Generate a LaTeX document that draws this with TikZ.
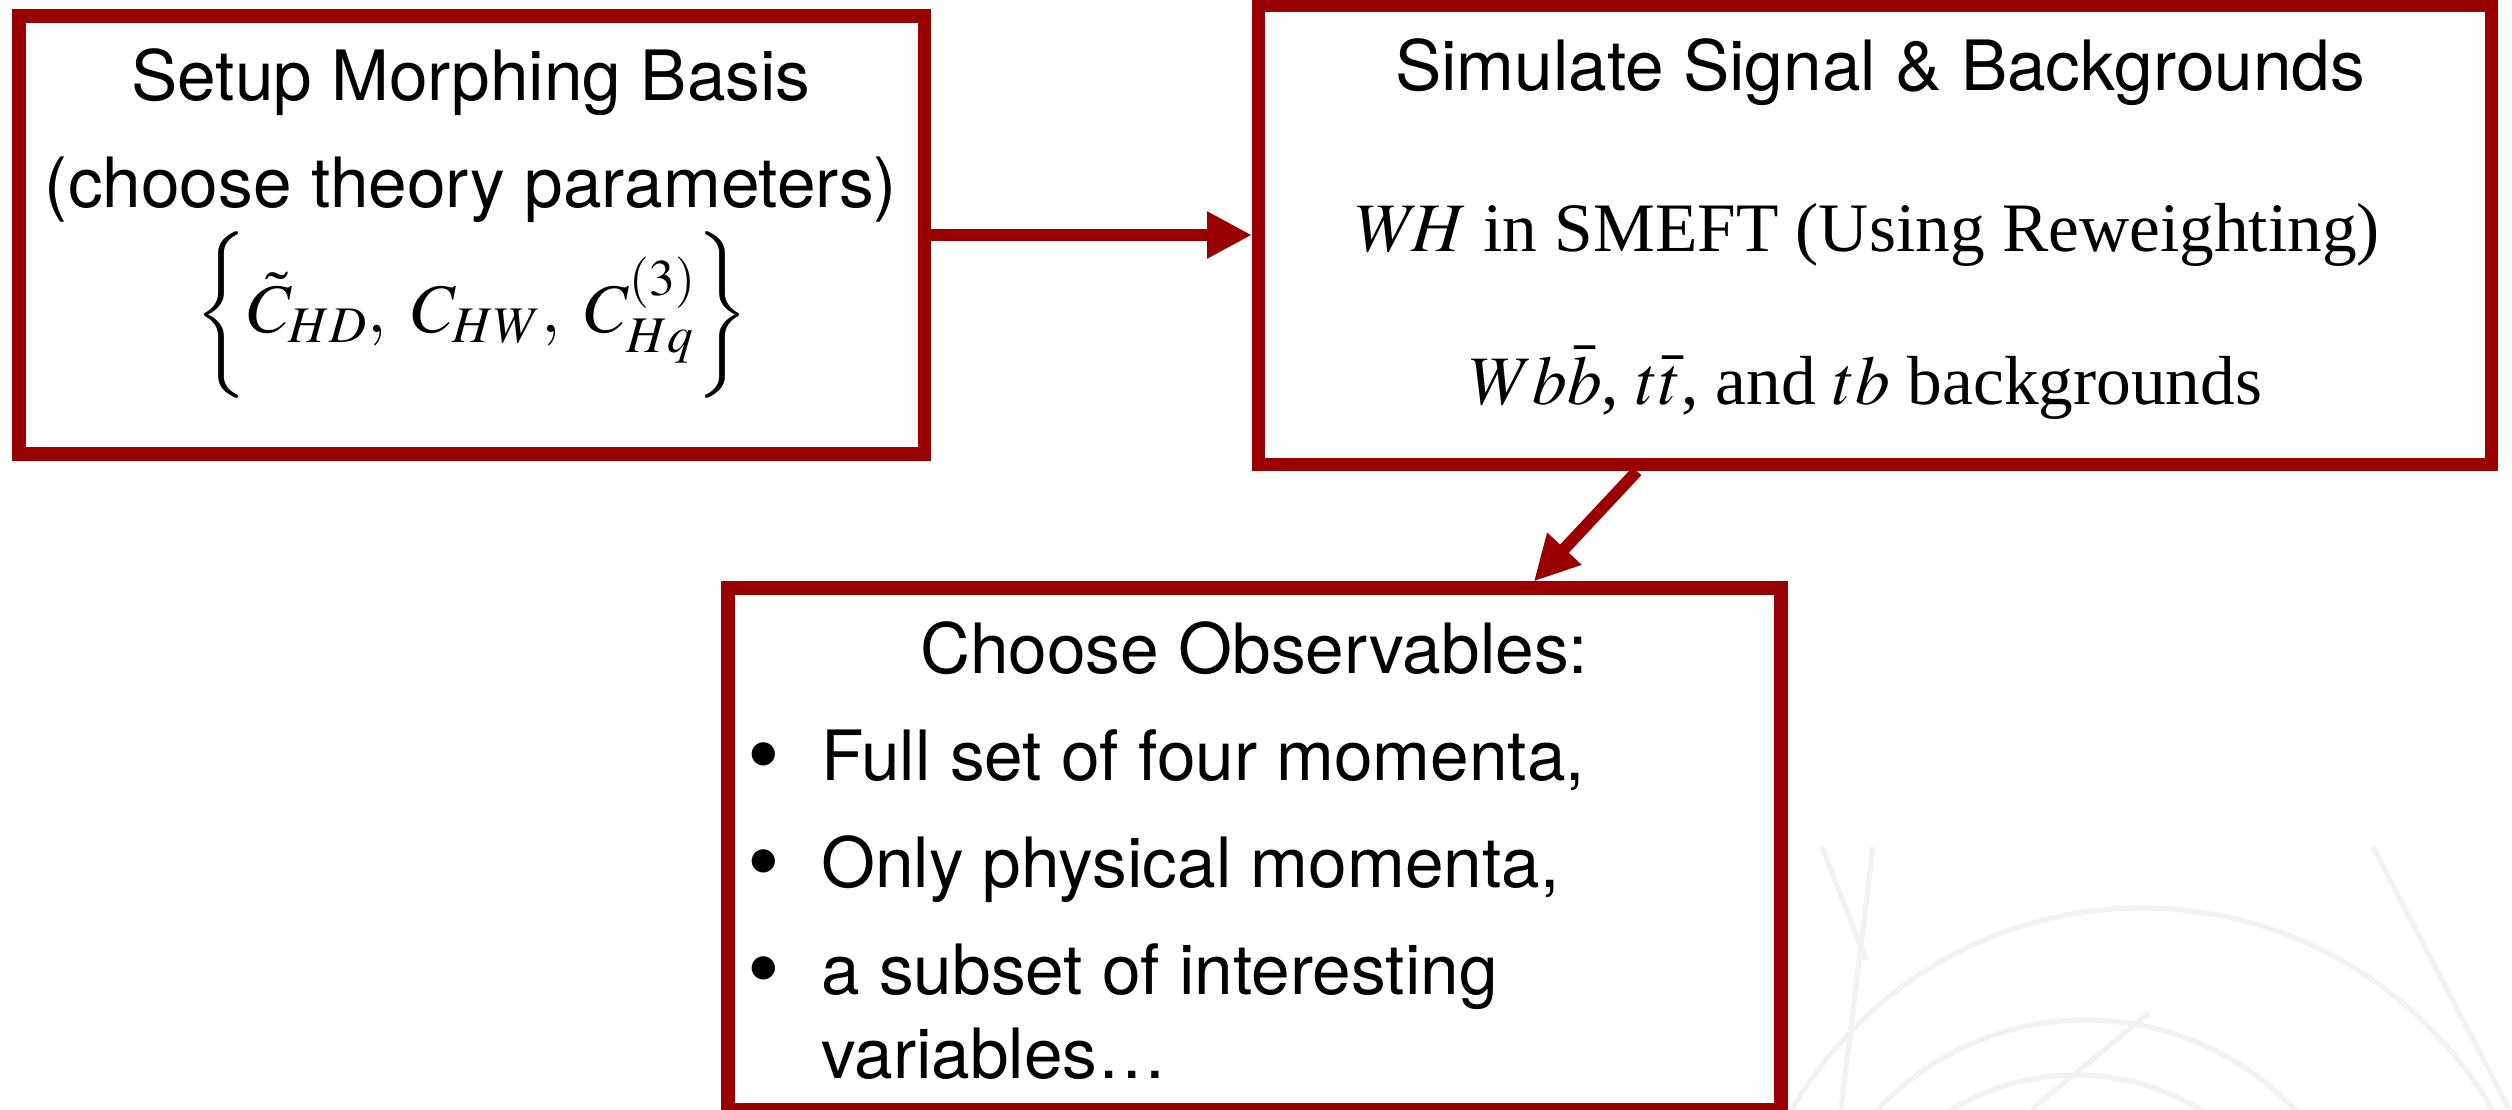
\documentclass[tikz,border=0pt]{standalone}
\usepackage{mathptmx}
\usepackage[no-math]{fontspec}
\setmainfont{Liberation Serif}
\newfontfamily\helv{TeX Gyre Heros}
\usetikzlibrary{arrows.meta,calc}
\definecolor{boxred}{RGB}{153,0,0}
\definecolor{wm}{RGB}{242,242,242}
\begin{document}
\begin{tikzpicture}[x=0.02cm,y=-0.02cm,
  box/.style={draw=boxred,fill=white,line width=7.6pt,inner sep=0pt,rectangle},
  conn/.style={draw=boxred,line width=6.8pt,-{Triangle[length=25.5pt,width=25pt]}},
  sans/.style={font=\helv\fontsize{39.5}{47}\selectfont,anchor=base,inner sep=0pt},
  serif/.style={font=\fontsize{39.5}{47}\selectfont,anchor=base,inner sep=0pt},
  bulletmark/.style={font=\helv\fontsize{53}{53}\selectfont,anchor=center,inner sep=0pt},
  wmline/.style={draw=wm,line width=3pt}
]
\useasboundingbox (0,0) rectangle (2512,1109);
% faint watermark
\begin{scope}[wmline]
\draw (2142,1313) circle[radius=405];
\draw (2086,1308) circle[radius=288];
\draw (2076,1315) circle[radius=240];
\draw (1822,847) -- (1866,960);
\draw (1873,847) -- (1841,1109);
\draw (2373,847) -- (2509,1109);
\draw (2149,1013) -- (2032,1109);
\end{scope}
% boxes
\node[box,minimum width=18.11cm,minimum height=8.76cm] (box1) at (471.75,235) {};
\node[box,minimum width=24.66cm,minimum height=9.19cm] (box2) at (1875,234.75) {};
\node[box,minimum width=21.06cm,minimum height=10.44cm] (box3) at (1254.5,849) {};
% connectors
\draw[conn] (box1.east) -- (box1.east -| box2.west);
\coordinate (a2s) at ($(box2.south west)!0.309!(box2.south east)$);
\coordinate (a2e) at ($(box3.north west)!0.762!(box3.north east)$);
\draw[conn] (a2s) -- (a2e);
% box 1 text
\node[sans] (t1a) at (471,100) {Setup Morphing Basis};
\node[sans] (t1b) at (471,207) {(choose theory parameters)};
\node[serif] (t1c) at (472,332) {$\left\{\rule[-1.0em]{0pt}{2.5em}\tilde{C}_{HD},\ C_{HW},\ C^{(3)}_{Hq}\right\}$};
% box 2 text
\node[sans] (t2a) at (1880,90) {Simulate Signal \& Backgrounds};
\node[serif] (t2b) at (1868,251) {$W\!H$ in SMEFT (Using Reweighting)};
\node[serif] (t2c) at (1866,404) {$Wb\bar{b}$, $t\bar{t}$, and $tb$ backgrounds};
% box 3 text
\node[sans] (t3a) at (1254,673) {Choose Observables:};
\node[bulletmark] (b1) at (764,765) {\textbullet};
\node[bulletmark] (b2) at (764,872) {\textbullet};
\node[bulletmark] (b3) at (764,979) {\textbullet};
\node[sans,anchor=base west] (l1) at (821,780) {Full set of four momenta,};
\node[sans,anchor=base west] (l2) at (821,887) {Only physical momenta,};
\node[sans,anchor=base west] (l3) at (821,994) {a subset of interesting};
\node[sans,anchor=base west] (l4) at (821,1078) {variables…};
\end{tikzpicture}
\end{document}
